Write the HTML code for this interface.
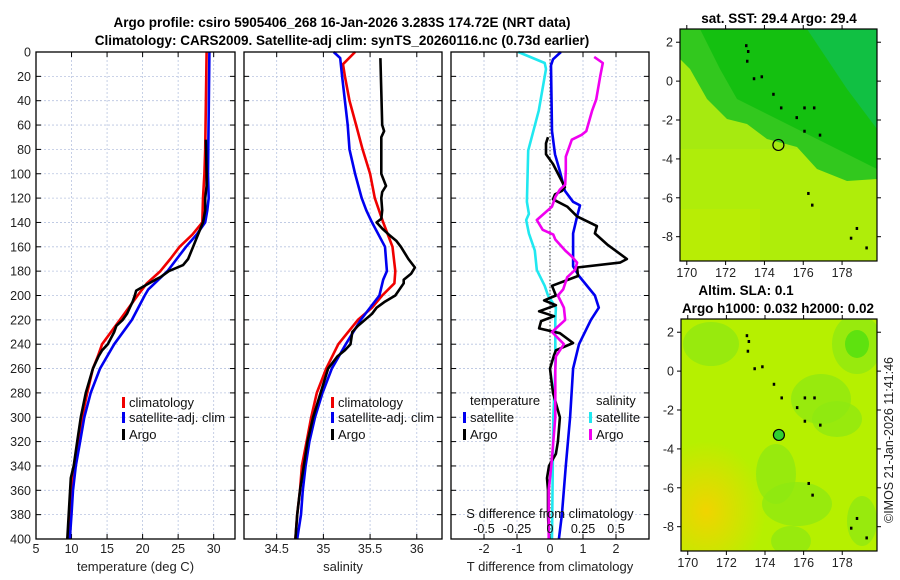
<!DOCTYPE html>
<html><head><meta charset="utf-8"><style>
body{margin:0;background:#fff;}
svg{display:block;font-family:"Liberation Sans","DejaVu Sans",sans-serif;}
</style></head><body>
<svg id="c" width="900" height="580" viewBox="0 0 900 580">
<g id="titles" font-weight="bold" font-size="13.5" text-anchor="middle">
<text x="342" y="27">Argo profile: csiro 5905406_268 16-Jan-2026 3.283S 174.72E (NRT data)</text>
<text x="342" y="45">Climatology: CARS2009. Satellite-adj clim: synTS_20260116.nc (0.73d earlier)</text>
<text x="779" y="23">sat. SST: 29.4 Argo: 29.4</text>
<text x="746" y="295">Altim. SLA: 0.1</text>
<text x="778" y="313">Argo h1000: 0.032 h2000: 0.02</text>
</g>
<text x="893" y="440" font-size="12.5" fill="#222" text-anchor="middle" transform="rotate(-90 893 440)">©IMOS 21-Jan-2026 11:41:46</text>
</svg>
<script>
// ---- data ----
const tempClimDepth=[0,80,100,120,140,150,160,170,180,190,200,220,240,250,260,280,300,320,340,360,380,400];
const tempClim=[29.0,28.8,28.7,28.5,28.4,27.0,25.2,23.9,22.5,20.6,19.3,16.8,14.3,13.7,13.0,12.2,11.5,10.9,10.5,10.0,9.7,9.45];
const tempSatDepth=[0,100,120,130,140,150,160,170,180,195,200,220,240,260,280,300,320,340,360,380,400];
const tempSat=[29.4,29.2,29.3,29.1,28.8,27.6,26.1,24.8,23.5,20.8,20.3,18.5,16.0,14.0,12.7,11.8,11.2,10.6,10.2,10.0,9.75];
const tempArgoDepth=[72,100,110,120,130,140,150,160,170,175,180,185,187,192,196,200,205,210,215,220,225,230,240,245,250,260,280,300,320,340,350,360,380,400];
const tempArgo=[28.9,29.0,29.0,28.8,28.8,28.5,27.8,27.1,26.4,25.7,23.7,22.5,21.8,20.3,19.1,18.9,18.6,18.2,17.8,17.2,16.3,16.0,15.1,14.3,13.8,13.0,12.0,11.3,10.8,10.3,9.9,9.8,9.6,9.4];
const salClimDepth=[0,10,20,40,60,80,100,120,140,160,180,190,200,210,220,240,260,280,300,320,340,360,380,400];
const salClim=[35.34,35.21,35.23,35.28,35.35,35.42,35.50,35.55,35.64,35.74,35.77,35.76,35.63,35.52,35.37,35.16,35.03,34.93,34.87,34.82,34.77,34.75,34.72,34.70];
const salSatDepth=[0,5,20,40,60,80,100,120,130,140,160,180,187,200,220,240,260,280,300,320,340,360,380,400];
const salSat=[35.11,35.18,35.20,35.23,35.26,35.28,35.34,35.41,35.46,35.52,35.66,35.68,35.64,35.60,35.40,35.24,35.09,34.99,34.91,34.85,34.81,34.78,34.76,34.72];
const salArgoDepth=[5,60,65,70,100,110,115,120,130,137,140,145,150,155,160,170,177,182,187,190,200,205,210,215,225,230,240,245,250,260,280,300,320,340,360,380,400];
const salArgo=[35.61,35.63,35.65,35.62,35.62,35.67,35.63,35.62,35.63,35.62,35.57,35.63,35.70,35.78,35.83,35.91,35.98,35.94,35.86,35.86,35.77,35.66,35.57,35.52,35.37,35.31,35.29,35.23,35.15,35.05,34.97,34.89,34.83,34.79,34.75,34.72,34.70];
const tDiffSatDepth=[0,6,11,65,84,98,114,123,126,135,149,176,184,200,210,220,240,260,300,340,380,400];
const tDiffSat=[0.33,0.09,0.03,0.06,0.15,0.30,0.45,0.70,0.91,0.82,0.70,0.70,0.88,1.36,1.48,1.24,0.88,0.70,0.61,0.48,0.36,0.27];
const tDiffArgoDepth=[70,75,84,92,103,111,114,117,121,127,135,143,149,158,170,173,177,184,192,200,204,208,213,217,221,227,231,239,245,249,260,280,300,320,330,340,350,360,380,400];
const tDiffArgo=[-0.06,-0.12,-0.12,0.09,0.30,0.45,0.36,0.15,0.09,0.52,0.82,1.42,1.36,1.73,2.33,2.12,0.82,0.85,0.06,0.18,-0.18,0.18,-0.33,0.12,-0.27,-0.33,0.30,0.70,0.18,0.12,0,0.09,0.30,0.24,0.18,-0.03,-0.09,-0.06,-0.06,-0.03];
const sDiffSatDepth=[0,9,14,48,81,123,133,138,149,163,179,192,200,210,220,260,300,400];
const sDiffSat=[-0.24,-0.04,-0.03,-0.085,-0.165,-0.175,-0.16,-0.18,-0.16,-0.115,-0.10,-0.04,-0.015,0.045,0.04,0.04,0.025,0.015];
const sDiffArgoDepth=[4,9,20,39,48,65,68,72,86,97,109,113,119,127,138,146,150,154,163,168,173,179,185,195,200,210,220,230,240,250,260,280,300,320,340,360,400];
const sDiffArgo=[0.335,0.40,0.38,0.35,0.32,0.275,0.24,0.165,0.12,0.12,0.115,0.075,0.04,0.015,-0.10,-0.055,0.025,0.04,0.115,0.165,0.205,0.19,0.13,0.10,0.06,0.105,0.115,0.015,0.105,0.045,0.04,0.04,0.04,0.025,0.01,-0.01,-0.01];
const depthTicks=[0,20,40,60,80,100,120,140,160,180,200,220,240,260,280,300,320,340,360,380,400];
const tempTicks=[5,10,15,20,25,30];
const salTicks=[34.5,35,35.5,36];
const tDiffTicks=[-2,-1,0,1,2];
const sDiffTicks=[-0.5,-0.25,0,0.25,0.5];
const sDiffTickLabels=["-0.5","-0.25","0","0.25","0.5"];
const latTicks=[2,0,-2,-4,-6,-8];
const lonTicks=[170,172,174,176,178];
const argoLon=174.72, argoLat=-3.283;

const NS="http://www.w3.org/2000/svg";
const svg=document.getElementById('c');
function el(tag,attrs,parent){const e=document.createElementNS(NS,tag);for(const k in attrs)e.setAttribute(k,attrs[k]);(parent||svg).appendChild(e);return e;}
const Y0=52,Y1=539;
const yD=d=>Y0+d*(Y1-Y0)/400;
function lin(d0,d1,r0,r1){return v=>r0+(v-d0)*(r1-r0)/(d1-d0);}

const panels=[
 {name:'temperature-panel',x0:36,x1:235,sx:lin(5,33,36,235),ticks:tempTicks,labels:tempTicks.map(String),title:'temperature (deg C)'},
 {name:'salinity-panel',x0:244,x1:442,sx:lin(34.15,36.27,244,442),ticks:salTicks,labels:salTicks.map(String),title:'salinity'},
 {name:'difference-panel',x0:451,x1:649,sx:lin(-3,3,451,649),ticks:tDiffTicks,labels:tDiffTicks.map(String),title:'T difference from climatology'}
];
panels.forEach((p,pi)=>{
 const g=el('g',{});
 
 
 p.g=g;
 depthTicks.forEach(d=>{
  const l=el('line',{x1:p.x0,x2:p.x1,y1:yD(d),y2:yD(d),stroke:'#b8c4e0','stroke-width':0.8,'stroke-dasharray':'2,2'},g);
  
  
  el('line',{x1:p.x0,x2:p.x0+5,y1:yD(d),y2:yD(d),stroke:'#000'},g);
  el('line',{x1:p.x1-5,x2:p.x1,y1:yD(d),y2:yD(d),stroke:'#000'},g);
  if(pi===0){const t=el('text',{x:p.x0-5,y:yD(d)+4.5,'font-size':12.5,'text-anchor':'end',fill:'#222'},g);t.textContent=d;
   
   }
 });
 p.ticks.forEach((v,i)=>{
  const x=p.sx(v);
  el('line',{x1:x,x2:x,y1:Y0,y2:Y1,stroke:'#b8c4e0','stroke-width':0.8,'stroke-dasharray':'2,2'},g);
  el('line',{x1:x,x2:x,y1:Y1,y2:Y1-5,stroke:'#000'},g);
  el('line',{x1:x,x2:x,y1:Y0,y2:Y0+5,stroke:'#000'},g);
  const t=el('text',{x:x,y:553,'font-size':12.5,'text-anchor':'middle',fill:'#222'},g);t.textContent=p.labels[i];
  
  
 });
 const tt=el('text',{x:(p.x0+p.x1)/2,y:571,'font-size':13,'text-anchor':'middle',fill:'#222'},g);tt.textContent=p.title;
 
 
});
function line(p,depths,vals,color,name,sx){
 const f=sx||p.sx;
 const pts=depths.map((d,i)=>f(vals[i]).toFixed(1)+','+yD(d).toFixed(1)).join(' ');
 const pl=el('polyline',{points:pts,fill:'none',stroke:color,'stroke-width':2.6,'stroke-linejoin':'round'},p.g);
 
 
}
const P1=panels[0],P2=panels[1],P3=panels[2];
const sxS=lin(-0.75,0.75,451,649);
const zl=el('line',{x1:P3.sx(0),x2:P3.sx(0),y1:Y0,y2:Y1,stroke:'#555','stroke-width':1.2,'stroke-dasharray':'1.5,2'},P3.g);


line(P1,tempClimDepth,tempClim,'#f00000','temp-climatology-line');
line(P1,tempSatDepth,tempSat,'#0000f0','temp-satellite-line');
line(P1,tempArgoDepth,tempArgo,'#000','temp-argo-line');
line(P2,salClimDepth,salClim,'#f00000','sal-climatology-line');
line(P2,salSatDepth,salSat,'#0000f0','sal-satellite-line');
line(P2,salArgoDepth,salArgo,'#000','sal-argo-line');
line(P3,sDiffSatDepth,sDiffSat,'#20e8f0','sdiff-satellite-line',sxS);
line(P3,tDiffSatDepth,tDiffSat,'#0000f0','tdiff-satellite-line');
line(P3,tDiffArgoDepth,tDiffArgo,'#000','tdiff-argo-line');
line(P3,sDiffArgoDepth,sDiffArgo,'#f000f0','sdiff-argo-line',sxS);
const sdt=el('text',{x:550,y:518,'font-size':13,'text-anchor':'middle',fill:'#111'},P3.g);sdt.textContent='S difference from climatology';


sDiffTicks.forEach((v,i)=>{const t=el('text',{x:sxS(v),y:533,'font-size':12.5,'text-anchor':'middle',fill:'#111'},P3.g);t.textContent=sDiffTickLabels[i];
 
 });
panels.forEach(p=>{el('rect',{x:p.x0,y:Y0,width:p.x1-p.x0,height:Y1-Y0,fill:'none',stroke:'#000','stroke-width':1.3},p.g);});
function leg(g,x,y,color,label){
 const lg=el('g',{},g);
 
 
 el('rect',{x:x,y:y-10,width:3,height:11,fill:color},lg);
 const t=el('text',{x:x+7,y:y,'font-size':13,fill:'#111'},lg);t.textContent=label;
}
[[P1,122],[P2,331]].forEach(([p,x])=>{
 leg(p.g,x,407,'#f00000','climatology');
 leg(p.g,x,422,'#0000f0','satellite-adj. clim');
 leg(p.g,x,439,'#000','Argo');
});
const tl=el('text',{x:470,y:405,'font-size':13,fill:'#111'},P3.g);tl.textContent='temperature';


const sl=el('text',{x:596,y:405,'font-size':13,fill:'#111'},P3.g);sl.textContent='salinity';


leg(P3.g,463,422,'#0000f0','satellite');
leg(P3.g,463,439,'#000','Argo');
leg(P3.g,589,422,'#20e8f0','satellite');
leg(P3.g,589,439,'#f000f0','Argo');

// ---- maps ----
function makeMap(name,x0,x1,y0,y1,kind){
 const g=el('g',{});
 
 
 const sx=lin(169.65,179.8,x0,x1), sy=lin(2.68,-9.25,y0,y1);
 const cid='clip'+kind;
 const cp=el('clipPath',{id:cid},g);el('rect',{x:x0,y:y0,width:x1-x0,height:y1-y0},cp);
 const inner=el('g',{'clip-path':'url(#'+cid+')'},g);
 if(kind==='sst'){
  el('rect',{x:x0,y:y0,width:x1-x0,height:y1-y0,fill:'#a6ea10'},inner);
  el('rect',{x:x0,y:y0+120,width:x1-x0,height:y1-y0-120,fill:'#b4ee08',opacity:0.7},inner);
  el('polygon',{points:`${x0},${y0} ${x1},${y0} ${x1},${y0+150} ${x1-30},${y0+152} ${x1-60},${y0+140} ${x1-80},${y0+118} ${x1-110},${y0+110} ${x1-130},${y0+95} ${x1-150},${y0+90} ${x1-170},${y0+70} ${x0+10},${y0+40} ${x0},${y0+30}`,fill:'#32c81e'},inner);
  el('polygon',{points:`${x0+20},${y0} ${x1},${y0} ${x1},${y0+140} ${x1-40},${y0+120} ${x1-90},${y0+95} ${x1-140},${y0+70} ${x0+40},${y0+40}`,fill:'#14c010'},inner);
  el('polygon',{points:`${x1-70},${y0} ${x1},${y0} ${x1},${y0+100} ${x1-30},${y0+60}`,fill:'#10bf50',opacity:0.8},inner);
  el('rect',{x:x0,y:y0+180,width:80,height:y1-y0-180,fill:'#c2ee00',opacity:0.5},inner);
 } else {
  el('rect',{x:x0,y:y0,width:x1-x0,height:y1-y0,fill:'#b6f000'},inner);
  const gr=el('radialGradient',{id:'org',cx:0.5,cy:0.5,r:0.5},g);
  el('stop',{offset:0,'stop-color':'#f0d400'},gr);el('stop',{offset:1,'stop-color':'#f0d400','stop-opacity':0},gr);
  el('ellipse',{cx:x0+25,cy:y1-40,rx:60,ry:70,fill:'url(#org)'},inner);
  const blobs=[[x0+30,y0+25,28,22],[x1-20,y0+25,25,30],[x1-40,y0+100,25,18],[x0+95,y0+155,20,30],[x1-80,y0+185,35,22],[x0+110,y1-10,20,15],[x0+140,y0+80,30,25],[x1-15,y1-30,15,25]];
  blobs.forEach(b=>el('ellipse',{cx:b[0],cy:b[1],rx:b[2],ry:b[3],fill:'#8ee812',opacity:0.75},inner));
  el('ellipse',{cx:x1-20,cy:y0+25,rx:12,ry:14,fill:'#50e010',opacity:0.8},inner);
 }
 const isl=[[173,1.9],[173.1,1.6],[173.05,1.1],[173.4,0.2],[173.8,0.3],[174.4,-0.6],[174.8,-1.3],[175.6,-1.8],[176,-1.3],[176.5,-1.3],[176,-2.5],[176.8,-2.7],[176.2,-5.7],[176.4,-6.3],[178.7,-7.5],[178.4,-8.0],[179.2,-8.5]];
 isl.forEach(c=>el('rect',{x:sx(c[0]),y:sy(c[1]),width:2.5,height:3,fill:'#000'},inner));
 el('circle',{cx:sx(argoLon),cy:sy(argoLat),r:5.5,fill:kind==='sst'?'none':'#30d030',stroke:'#000','stroke-width':1.2},inner);
 el('rect',{x:x0,y:y0,width:x1-x0,height:y1-y0,fill:'none',stroke:'#000','stroke-width':1.2},g);
 latTicks.forEach(v=>{const y=sy(v);
  el('line',{x1:x0,x2:x0-4,y1:y,y2:y,stroke:'#000'},g);el('line',{x1:x1,x2:x1+4,y1:y,y2:y,stroke:'#000'},g);
  const t=el('text',{x:x0-7,y:y+4.5,'font-size':12.5,'text-anchor':'end',fill:'#222'},g);t.textContent=v;
  
  });
 lonTicks.forEach(v=>{const x=sx(v);
  el('line',{x1:x,x2:x,y1:y1,y2:y1+4,stroke:'#000'},g);el('line',{x1:x,x2:x,y1:y0,y2:y0-4,stroke:'#000'},g);
  const t=el('text',{x:x,y:y1+16,'font-size':12.5,'text-anchor':'middle',fill:'#222'},g);t.textContent=v;
  
  });
}
makeMap('sst-map',680,877,29,261,'sst');
makeMap('sla-map',681,877,319,551,'sla');
</script>
</body></html>
